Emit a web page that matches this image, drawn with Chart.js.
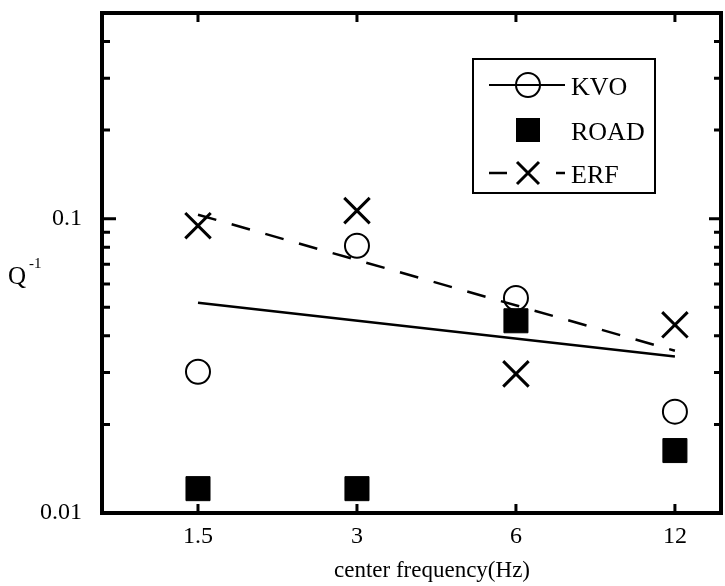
<!DOCTYPE html>
<html>
<head>
<meta charset="utf-8">
<title>Q-1 vs center frequency</title>
<script src="https://cdn.jsdelivr.net/npm/chart.js@4/dist/chart.umd.min.js"></script>
<style>
  html, body { margin: 0; padding: 0; background: #fff; }
</style>
</head>
<body>
<canvas id="canvas" width="725" height="586"></canvas>
<script>
// center frequencies (Hz)
var freqs = [1.5, 3, 6, 12];

// Q^-1
var kvo  = [0.0302, 0.0809, 0.0538, 0.0221];
var road = [0.0121, 0.0121, 0.0450, 0.0163];
var erf  = [0.0947, 0.1065, 0.0297, 0.0436];

// fitted lines, ends at 1.5 Hz and 12 Hz
var fitFreqs = [1.5, 12];
var kvoFit = [0.0518, 0.0340];
var erfFit = [0.1032, 0.0356];

var xTicks = [1.5, 3, 6, 12];
var yTicks = [0.01, 0.1];
var yMinorTicks = [0.02, 0.03, 0.04, 0.05, 0.06, 0.07, 0.08, 0.09, 0.2, 0.3, 0.4];

var FONT = 'Liberation Serif';

function pts(xs, ys) {
  return xs.map(function (x, i) { return {x: x, y: ys[i]}; });
}

// box, inward ticks, axis titles and the legend
var framePlugin = {
  id: 'frame',
  afterDraw: function (chart) {
    var c = chart.ctx, a = chart.chartArea;
    var sx = chart.scales.x, sy = chart.scales.y;
    c.save();
    c.strokeStyle = '#000';
    c.fillStyle = '#000';

    c.lineWidth = 3;
    c.beginPath();
    xTicks.forEach(function (v) {
      var px = sx.getPixelForValue(v);
      c.moveTo(px, a.bottom); c.lineTo(px, a.bottom - 9);
      c.moveTo(px, a.top); c.lineTo(px, a.top + 9);
    });
    yTicks.forEach(function (v) {
      var py = sy.getPixelForValue(v);
      c.moveTo(a.left, py); c.lineTo(a.left + 14, py);
      c.moveTo(a.right, py); c.lineTo(a.right - 12, py);
    });
    yMinorTicks.forEach(function (v) {
      var py = sy.getPixelForValue(v);
      c.moveTo(a.left, py); c.lineTo(a.left + 8, py);
      c.moveTo(a.right, py); c.lineTo(a.right - 7, py);
    });
    c.stroke();

    c.lineWidth = 4;
    c.strokeRect(a.left, a.top, a.right - a.left, a.bottom - a.top);

    // axis titles
    c.textBaseline = 'alphabetic';
    c.textAlign = 'center';
    c.font = '23px "' + FONT + '"';
    c.fillText('center frequency(Hz)', 432, 577);
    c.textAlign = 'left';
    c.font = '25px "' + FONT + '"';
    c.fillText('Q', 8, 284);
    c.font = '15px "' + FONT + '"';
    c.fillText('-1', 29, 268);

    // legend
    var ds = chart.data.datasets;
    c.lineWidth = 2;
    c.strokeRect(473, 59, 182, 134);
    c.font = '26px "' + FONT + '"';

    c.beginPath();
    c.moveTo(489, 85); c.lineTo(565, 85);
    c.stroke();
    c.beginPath();
    c.arc(528, 85, 12, 0, Math.PI * 2);
    c.stroke();
    c.fillText(ds[0].label, 571, 95);

    c.fillRect(516, 118, 24, 24);
    c.fillText(ds[1].label, 571, 140);

    c.lineWidth = 2.5;
    c.beginPath();
    c.moveTo(489, 173); c.lineTo(507, 173);
    c.moveTo(556, 173); c.lineTo(565, 173);
    c.stroke();
    c.lineWidth = 3;
    c.beginPath();
    c.moveTo(517, 162); c.lineTo(539, 184);
    c.moveTo(539, 162); c.lineTo(517, 184);
    c.stroke();
    c.fillText(ds[2].label, 571, 183);

    c.restore();
  }
};

var ctx = document.getElementById('canvas').getContext('2d');
var chart = new Chart(ctx, {
  type: 'scatter',
  data: {
    datasets: [{
      label: 'KVO',
      data: pts(freqs, kvo),
      pointStyle: 'circle',
      pointRadius: 12,
      pointBorderWidth: 2,
      pointBorderColor: '#000',
      pointBackgroundColor: 'rgba(0,0,0,0)'
    }, {
      label: 'ROAD',
      data: pts(freqs, road),
      pointStyle: 'rect',
      pointRadius: 17,
      pointBorderWidth: 1,
      pointBorderColor: '#000',
      pointBackgroundColor: '#000'
    }, {
      label: 'ERF',
      data: pts(freqs, erf),
      pointStyle: 'crossRot',
      pointRadius: 18,
      pointBorderWidth: 3,
      pointBorderColor: '#000'
    }, {
      label: 'KVO fit',
      data: pts(fitFreqs, kvoFit),
      showLine: true,
      borderColor: '#000',
      borderWidth: 2.5,
      pointRadius: 0
    }, {
      label: 'ERF fit',
      data: pts(fitFreqs, erfFit),
      showLine: true,
      borderColor: '#000',
      borderWidth: 2.5,
      borderDash: [19, 16],
      pointRadius: 0
    }]
  },
  options: {
    responsive: false,
    animation: false,
    layout: { autoPadding: false, padding: { top: 13, right: 4, left: 0, bottom: 0 } },
    plugins: {
      legend: { display: false },
      tooltip: { enabled: false }
    },
    scales: {
      x: {
        type: 'logarithmic',
        min: 0.987,
        max: 14.67,
        grid: { display: false, drawTicks: false },
        border: { display: false },
        afterBuildTicks: function (s) {
          s.ticks = xTicks.map(function (v) { return {value: v}; });
        },
        afterFit: function (s) {
          s.height = 73;
          s.paddingLeft = 0;
          s.paddingRight = 0;
        },
        ticks: {
          autoSkip: false,
          maxRotation: 0,
          padding: 9,
          color: '#000',
          font: { family: FONT, size: 24 },
          callback: function (v) { return String(v); }
        }
      },
      y: {
        type: 'logarithmic',
        min: 0.01,
        max: 0.5,
        grid: { display: false, drawTicks: false },
        border: { display: false },
        afterBuildTicks: function (s) {
          s.ticks = yTicks.map(function (v) { return {value: v}; });
        },
        afterFit: function (s) {
          s.width = 102;
          s.paddingTop = 0;
          s.paddingBottom = 0;
        },
        ticks: {
          padding: 20,
          color: '#000',
          font: { family: FONT, size: 24 },
          callback: function (v) { return String(v); }
        }
      }
    }
  },
  plugins: [framePlugin]
});
</script>
</body>
</html>
